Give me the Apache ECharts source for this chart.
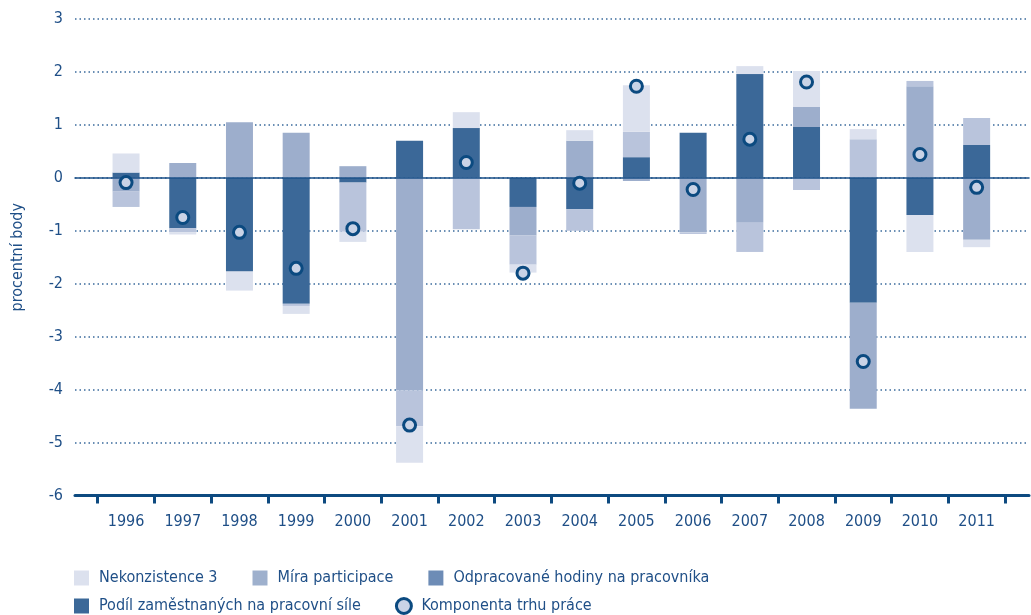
<!DOCTYPE html>
<html>
<head>
<meta charset="utf-8">
<script src="https://cdn.jsdelivr.net/npm/echarts@6/dist/echarts.min.js"></script>
<style>
  html, body { margin: 0; padding: 0; background: #fff; }
  #chart { width: 1031px; height: 615px; }
</style>
</head>
<body>
<div id="chart"></div>
<script>
var years = ['1996', '1997', '1998', '1999', '2000', '2001', '2002', '2003',
  '2004', '2005', '2006', '2007', '2008', '2009', '2010', '2011'];

// stacked from zero outward: podil, hodiny, participace, nekonzistence
var podilZamestnanych = [0.10, -0.95, -1.77, -2.38, -0.09, 0.70, 0.94, -0.55,
  -0.59, 0.39, 0.85, 1.96, 0.96, -2.36, -0.70, 0.62];
var odpracovaneHodiny = [-0.26, 0.28, 1.05, 0.85, 0.22, -4.01, 0, -0.54,
  0.70, -0.06, -1.03, -0.85, 0.38, -2.00, 1.73, -1.17];
var miraParticipace = [-0.29, -0.08, 0, -0.04, -0.93, -0.68, -0.97, -0.55,
  -0.41, 0.48, -0.03, -0.55, -0.23, 0.73, 0.10, 0.51];
var nekonzistence = [0.36, -0.04, -0.36, -0.15, -0.19, -0.69, 0.30, -0.15,
  0.20, 0.88, 0, 0.15, 0.68, 0.19, -0.70, -0.14];
var komponenta = [-0.09, -0.75, -1.03, -1.71, -0.96, -4.67, 0.29, -1.80,
  -0.10, 1.73, -0.22, 0.73, 1.81, -3.47, 0.44, -0.18];

var yTicks = [-6, -5, -4, -3, -2, -1, 0, 1, 2, 3];

var font = '"Liberation Sans Narrow", "DejaVu Sans Condensed", sans-serif';
var textColor = '#1f4f87';
var axisDark = '#0d4a80';

var barSerie = function(name, values, color) {
  return {
    name: name,
    type: 'bar',
    stack: 'trh',
    xAxisIndex: 2,
    yAxisIndex: 1,
    barWidth: 27,
    itemStyle: { color: color },
    emphasis: { disabled: true },
    data: values
  };
};

var legendText = { fontFamily: font, fontSize: 16, color: textColor, padding: [0, 0, 0, 5] };

var option = {
  backgroundColor: '#fff',
  animation: false,
  grid: [
    { left: 75, right: 2, top: 19, bottom: 119.5, outerBoundsMode: 'none' },
    { left: 97.7, right: 26, top: 19, bottom: 119.5, outerBoundsMode: 'none' }
  ],
  legend: [
    {
      left: 74, top: 570, padding: 0, itemWidth: 15, itemHeight: 15, itemGap: 35,
      icon: 'rect', textStyle: legendText, selectedMode: false,
      data: [
        { name: 'Nekonzistence 3', itemStyle: { color: '#dce1ee' } },
        { name: 'Míra participace', itemStyle: { color: '#9eb0cd' } },
        { name: 'Odpracované hodiny na pracovníka', itemStyle: { color: '#6d8cb6' } }
      ]
    },
    {
      left: 74, top: 597, padding: 0, itemWidth: 15, itemHeight: 15, itemGap: 34,
      textStyle: legendText, selectedMode: false,
      data: [
        { name: 'Podíl zaměstnaných na pracovní síle', icon: 'rect', itemStyle: { color: '#3b6898' } },
        { name: 'Komponenta trhu práce', icon: 'circle',
          itemStyle: { color: '#c9d3e6', borderColor: '#0b4a80', borderWidth: 3 } }
      ]
    }
  ],
  xAxis: [
    {
      // zero line across the full width
      type: 'value', gridIndex: 0, min: 0, max: 1, position: 'bottom', z: 5,
      axisLine: { onZero: true, lineStyle: { color: '#1b5088', width: 1.5 } },
      axisTick: { show: false }, axisLabel: { show: false }, splitLine: { show: false }
    },
    {
      // bottom line at -6
      type: 'value', gridIndex: 0, min: 0, max: 1, position: 'bottom',
      axisLine: { onZero: false, lineStyle: { color: axisDark, width: 3 } },
      axisTick: { show: false }, axisLabel: { show: false }, splitLine: { show: false }
    },
    {
      type: 'category', gridIndex: 1, data: years, position: 'bottom',
      axisLine: { onZero: false, show: false },
      axisTick: { show: true, length: 8, lineStyle: { color: axisDark, width: 3 } },
      axisLabel: { fontFamily: font, fontSize: 16, color: textColor, margin: 18 },
      splitLine: { show: false }
    }
  ],
  yAxis: [
    {
      type: 'value', gridIndex: 0, min: -6, max: 3, interval: 1,
      name: 'procentní body', nameLocation: 'middle', nameGap: 49,
      nameTextStyle: { fontFamily: font, fontSize: 16, color: textColor },
      axisLine: { show: false }, axisTick: { show: false },
      axisLabel: {
        fontFamily: font, fontSize: 16, color: textColor, margin: 12,
        formatter: function(v) { return yTicks.indexOf(v) >= 0 ? String(v) : ''; }
      },
      splitLine: {
        lineStyle: { color: '#3a6a9c', width: 1.5, type: [1.5, 3] }
      }
    },
    {
      type: 'value', gridIndex: 1, min: -6, max: 3, interval: 1,
      axisLine: { show: false }, axisTick: { show: false },
      axisLabel: { show: false }, splitLine: { show: false }
    }
  ],
  series: [
    barSerie('Podíl zaměstnaných na pracovní síle', podilZamestnanych, '#3b6898'),
    barSerie('Odpracované hodiny na pracovníka', odpracovaneHodiny, '#9daecc'),
    barSerie('Míra participace', miraParticipace, '#b9c4dc'),
    barSerie('Nekonzistence 3', nekonzistence, '#dce1ee'),
    {
      name: 'Komponenta trhu práce',
      type: 'scatter',
      xAxisIndex: 2,
      yAxisIndex: 1,
      z: 6,
      symbol: 'circle',
      symbolSize: 12,
      itemStyle: { color: '#c9d3e6', borderColor: '#0b4a80', borderWidth: 3, opacity: 1 },
      emphasis: { disabled: true },
      data: komponenta
    }
  ]
};

var myChart = echarts.init(document.getElementById('chart'), null, { renderer: 'canvas' });
myChart.setOption(option);
</script>
</body>
</html>
